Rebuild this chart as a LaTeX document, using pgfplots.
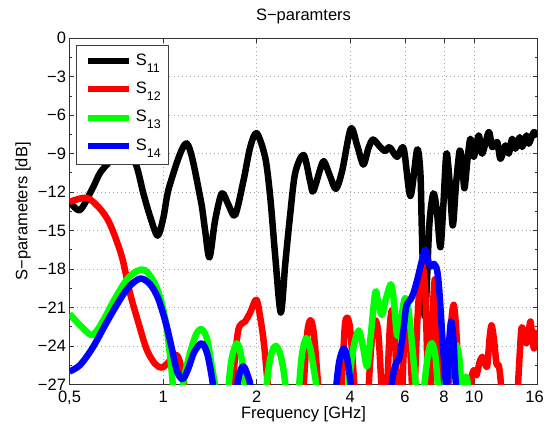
\documentclass[border=0pt]{standalone}
\usepackage{fontspec}
\setmainfont{Liberation Sans}
\usepackage{pgfplots}
\pgfplotsset{compat=1.18}
\newcommand{\sub}[1]{\raisebox{-7pt}{\fontsize{12.5}{13}\selectfont #1}}
\begin{document}
\begin{tikzpicture}
\begin{axis}[
 scale only axis, width=468pt, height=346pt,
 xmode=log, xmin=0.5, xmax=16, ymin=-27, ymax=0,
 xtick={0.5,1,2,4,6,8,10,16},
 xticklabels={{0,5},1,2,4,6,8,10,{\hspace*{-6pt}16}},
 ytick={-27,-24,-21,-18,-15,-12,-9,-6,-3,0},
 yticklabels={−27,−24,−21,−18,−15,−12,−9,−6,−3,0},
 minor ytick={-25.5,-22.5,...,-1.5},
 grid=major,
 major grid style={gray!70, line width=0.7pt, dash pattern=on 1pt off 3pt},
 tick align=inside,
 major tick length=5pt, minor tick length=3pt,
 every tick/.style={black!80, line width=0.7pt},
 axis line style={black!80, line width=0.9pt},
 tick label style={font=\fontsize{16.5}{19}\selectfont},
 xticklabel style={yshift=-3pt},
 label style={font=\fontsize{16.5}{19}\selectfont},
 title style={font=\fontsize{16.5}{19}\selectfont, at={(axis description cs:0.5,1)}, anchor=south, inner sep=0pt, yshift=8pt},
 title={S−paramters},
 xlabel={Frequency [GHz]},
 ylabel={S−parameters [dB]},
 xlabel style={at={(axis description cs:0.5,0)}, anchor=north, inner sep=0pt, yshift=-22pt},
 ylabel style={at={(axis description cs:-0.082,0.5)}, anchor=south, inner sep=0pt},
 legend style={at={(axis description cs:0,1)}, anchor=north west, xshift=7pt, yshift=-7pt,
   draw=black!75, line width=0.8pt, fill=white, inner xsep=8pt, inner ysep=7.5pt, row sep=9.3pt,
   font=\fontsize{16.5}{19}\selectfont,
   cells={anchor=base west},
   nodes={inner sep=0pt, text height=12pt, text depth=7pt},
   /tikz/every odd column/.append style={column sep=4pt}},
 legend image code/.code={\draw[#1, line width=6pt] (0pt,4pt) -- (41pt,4pt);},
 every axis plot/.append style={line width=6.5pt, line join=round, smooth},
]
\addplot[black] coordinates {
(0.5,-12.7) (0.5405,-13.4) (0.596,-11.6) (0.627,-10.5) (0.675,-9.6) (0.738,-8.8) (0.813,-9.7) (0.864,-12.1) (0.908,-13.9) (0.960,-15.4) (1.002,-14.0) (1.049,-11.5) (1.191,-8.2) (1.316,-12.4) (1.365,-15.0) (1.410,-17.1) (1.470,-14.2) (1.545,-12.1) (1.623,-13.0) (1.705,-13.8) (1.814,-11.1) (1.906,-8.5) (2.0,-7.4) (2.130,-9.3) (2.211,-12.4) (2.294,-17.0) (2.390,-21.4) (2.471,-17.6) (2.564,-13.7) (2.660,-10.5) (2.831,-9.1) (2.973,-11.2) (3.04,-11.95) (3.202,-10.2) (3.292,-9.6) (3.449,-10.8) (3.598,-11.75) (3.770,-10.3) (4.015,-7.05) (4.213,-8.4) (4.405,-9.85) (4.571,-8.6) (4.733,-7.9) (4.997,-8.5) (5.185,-8.8) (5.353,-8.5) (5.655,-9.25) (5.938,-8.6) (6.241,-12.3) (6.559,-8.7) (6.721,-10.5) (6.796,-15) (6.923,-21.5) (7.026,-20) (7.184,-14.5) (7.401,-12.1) (7.595,-13.5) (7.796,-16.3) (7.970,-13) (8.150,-9.0) (8.332,-11) (8.540,-14.6) (8.744,-11.5) (8.994,-8.75) (9.177,-10) (9.314,-11.7) (9.523,-9.5) (9.736,-7.84) (9.977,-9.26) (10.35,-7.58) (10.62,-9.0) (11.15,-7.32) (11.44,-8.49) (11.87,-8.1) (12.16,-9.4) (12.62,-8.36) (12.93,-9.0) (13.26,-7.84) (13.59,-8.62) (14.03,-7.71) (14.28,-8.49) (14.75,-7.58) (15.00,-8.23) (15.57,-7.32) (16,-7.7)
};
\addlegendentry{S\sub{11}}
\addplot[red] coordinates {
(0.5,-12.77) (0.568,-12.45) (0.627,-13.3) (0.675,-14.5) (0.736,-17.0) (0.783,-19.9) (0.833,-22.2) (0.886,-24.3) (0.942,-25.4) (0.990,-25.7) (1.038,-25.3) (1.097,-24.7) (1.134,-25.3) (1.177,-27.5) (1.222,-32)
(1.619,-32) (1.674,-27) (1.744,-22.8) (1.837,-22.1) (1.906,-21.4) (1.996,-20.4) (2.060,-22.0) (2.114,-24.0) (2.178,-27.5) (2.244,-32)
(2.761,-32) (2.834,-27) (2.908,-23) (2.978,-22.0) (3.052,-23) (3.155,-27.2) (3.250,-32)
(3.660,-32) (3.756,-27) (3.840,-22.5) (3.912,-21.8) (4.0,-22.8) (4.120,-27) (4.213,-31)
(4.504,-32) (4.588,-27) (4.708,-23) (4.814,-22.0) (4.922,-23) (5.033,-27) (5.147,-32)
(5.262,-27) (5.361,-22.5) (5.449,-21.2) (5.543,-22.5) (5.646,-27) (5.752,-32)
(5.881,-27) (5.991,-22.5) (6.081,-20.8) (6.195,-22.8) (6.311,-27) (6.405,-31)
(6.453,-27) (6.574,-22) (6.721,-18.5) (6.847,-17.8) (6.975,-20) (7.106,-27) (7.212,-31)
(7.265,-27) (7.346,-22) (7.484,-18.8) (7.624,-22) (7.738,-27) (7.854,-31)
(8.090,-31) (8.272,-27) (8.427,-22.5) (8.604,-20.8) (8.778,-23) (8.941,-27) (9.108,-32)
(9.593,-32) (9.773,-27) (9.977,-25.9) (10.18,-26.3) (10.41,-25.3) (10.62,-24.85) (10.80,-25.2) (11.02,-25.6) (11.21,-23.5) (11.38,-22.4) (11.59,-23.5) (11.81,-25.4) (12.03,-25.6) (12.25,-27.5) (12.53,-32)
(13.49,-32) (13.85,-27) (14.16,-23) (14.32,-22.6) (14.53,-23.5) (14.75,-23.8) (14.97,-23) (15.19,-22.1) (15.42,-23.5) (15.59,-24.2) (15.76,-23.3) (16,-22.8)
};
\addlegendentry{S\sub{12}}
\addplot[green] coordinates {
(0.5,-21.5) (0.5405,-22.4) (0.586,-23.15) (0.613,-22.8) (0.646,-21.9) (0.701,-20.3) (0.766,-18.8) (0.825,-18.15) (0.875,-18.1) (0.929,-18.9) (0.978,-20.2) (1.0225,-22.3) (1.061,-25.5) (1.085,-28.2) (1.114,-30) (1.143,-28) (1.168,-26.5) (1.222,-24.5) (1.277,-23.1) (1.330,-22.7) (1.386,-23.5) (1.438,-25.8) (1.476,-27.5) (1.515,-32)
(1.572,-32) (1.619,-27.5) (1.662,-25) (1.727,-23.8) (1.783,-24.8) (1.830,-27) (1.878,-32)
(2.083,-32) (2.154,-27) (2.219,-24.8) (2.303,-24.0) (2.390,-24.8) (2.471,-27) (2.545,-32)
(2.660,-32) (2.741,-27) (2.803,-24.5) (2.887,-23.4) (2.973,-24.2) (3.052,-25.8) (3.120,-27.5) (3.202,-32)
(3.714,-32) (3.855,-29) (3.970,-26.5) (4.090,-24.2) (4.254,-22.8) (4.389,-24.0) (4.527,-25.6) (4.640,-23.5) (4.814,-19.8) (4.922,-20.7) (5.059,-21.6) (5.185,-20.5) (5.401,-19.2) (5.522,-20.5) (5.655,-23.2) (5.795,-22.3) (5.969,-20.4) (6.103,-20.6) (6.241,-22.5) (6.381,-25) (6.525,-27.5) (6.721,-30) (6.923,-27) (7.132,-24.5) (7.319,-23.8) (7.512,-24.8) (7.681,-27.5) (7.912,-29) (8.211,-25.5) (8.458,-24.3) (8.744,-23.9) (8.975,-25) (9.108,-27.5) (9.245,-27.2) (9.418,-26.4) (9.593,-27.5) (9.809,-32)
};
\addlegendentry{S\sub{13}}
\addplot[blue] coordinates {
(0.5,-26.0) (0.5405,-25.5) (0.595,-24.1) (0.675,-21.7) (0.764,-19.6) (0.843,-18.75) (0.908,-19.2) (0.964,-20.3) (1.0225,-22.3) (1.069,-24.3) (1.109,-26.0) (1.156,-26.6) (1.204,-25.8) (1.258,-24.5) (1.330,-23.8) (1.386,-24.6) (1.438,-26.6) (1.481,-29) (1.549,-32)
(1.668,-32) (1.724,-27.5) (1.770,-26) (1.814,-25.6) (1.864,-26.2) (1.920,-27.5) (1.978,-32)
(3.449,-32) (3.592,-27.5) (3.687,-25.2) (3.812,-24.2) (3.912,-25) (4.030,-27.5) (4.151,-32)
(5.224,-32) (5.421,-27.2) (5.584,-25.5) (5.752,-24.9) (5.925,-22.8) (6.058,-20.9) (6.241,-20.4) (6.381,-19.9) (6.559,-18.9) (6.806,-17.3) (6.975,-16.5) (7.148,-17.5) (7.292,-17.8) (7.429,-17.6) (7.607,-18.1) (7.738,-19.8) (7.894,-23.0) (8.060,-26.0) (8.180,-27.2) (8.302,-24) (8.438,-22.1) (8.583,-23.5) (8.712,-26.5) (8.842,-28) (9.041,-32)
};
\addlegendentry{S\sub{14}}
\end{axis}
\pgfresetboundingbox
\path (-69.5pt,-45.7pt) rectangle (475.5pt,384.3pt);
\end{tikzpicture}
\end{document}
